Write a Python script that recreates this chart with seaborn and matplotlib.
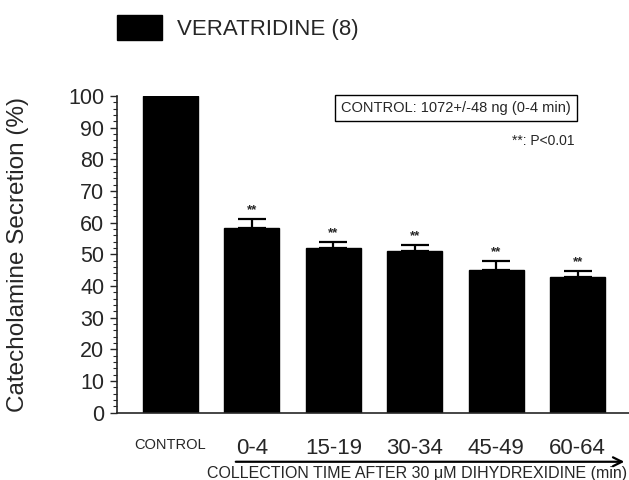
import matplotlib
matplotlib.use("Agg")
import matplotlib.pyplot as plt
from matplotlib.ticker import MultipleLocator
import numpy as np
import pandas as pd
import seaborn as sns

# values
categories = ["CONTROL", "0-4", "15-19", "30-34", "45-49", "60-64"]
secretion = [100, 58.3, 52.1, 51.2, 45.0, 42.8]
sem = [0, 2.9, 1.9, 1.9, 2.9, 2.0]
significant = [False, True, True, True, True, True]

df = pd.DataFrame({"period": categories, "secretion": secretion})

sns.set_style("white")
plt.rcParams["font.family"] = ["Liberation Sans", "DejaVu Sans"]

fig = plt.figure(figsize=(6.29, 4.8), dpi=100)
ax = fig.add_axes([0.186, 0.14, 0.814, 0.66])

sns.barplot(data=df, x="period", y="secretion", color="black", width=0.675,
            saturation=1, ax=ax, errorbar=None, edgecolor="black")

x = np.arange(len(categories))
err = np.array(sem)
ax.errorbar(x[1:], np.array(secretion)[1:], yerr=[np.zeros(len(x) - 1), err[1:]],
            fmt="none", ecolor="black", elinewidth=1.6, capsize=10, capthick=1.6)
for xi, v, e, s in zip(x, secretion, sem, significant):
    if s:
        ax.text(xi, v + e + 0.8, "**", ha="center", va="bottom", fontsize=9.5,
                fontweight="bold")

ax.set_ylim(0, 100)
ax.set_xlim(-0.657, 5.63)
ax.yaxis.set_major_locator(MultipleLocator(10))
ax.yaxis.set_minor_locator(MultipleLocator(2))
ax.tick_params(axis="y", which="major", direction="out", length=5, width=1,
               labelsize=15.5, left=True, pad=4)
ax.tick_params(axis="y", which="minor", direction="out", length=3, width=0.8, left=True)
ax.tick_params(axis="x", length=0, pad=18, labelsize=16)
for lbl in ax.get_xticklabels():
    if lbl.get_text() == "CONTROL":
        lbl.set_fontsize(10.5)

sns.despine(ax=ax, top=True, right=True)
ax.spines["left"].set_linewidth(1.2)
ax.spines["bottom"].set_linewidth(1.2)
ax.set_xlabel("")
ax.set_ylabel("")
fig.text(18 / 629, 1 - 255 / 480, "Catecholamine Secretion (%)", rotation=90,
         ha="center", va="center", fontsize=17.5)

# arrow and time axis caption
ax.annotate("", xy=(0.997, 0.038), xytext=(233 / 629, 0.038), xycoords="figure fraction",
            arrowprops=dict(arrowstyle="->", color="black", lw=1.6,
                            mutation_scale=16), annotation_clip=False)
fig.text(0.997, 0.013, "COLLECTION TIME AFTER 30 \u03bcM DIHYDREXIDINE (min)",
         ha="right", va="center", fontsize=11.5)

# legend-like key at the top
fig.patches.append(plt.Rectangle((117 / 629, 1 - 40 / 480), 45 / 629, 25 / 480,
                                 transform=fig.transFigure, color="black"))
fig.text(177 / 629, 1 - 30 / 480, "VERATRIDINE (8)", ha="left", va="center",
         fontsize=16)

fig.text(456 / 629, 1 - 108 / 480, "CONTROL: 1072+/-48 ng (0-4 min)",
         ha="center", va="center", fontsize=10.5,
         bbox=dict(boxstyle="square,pad=0.4", fc="white", ec="black", lw=1))
fig.text(575 / 629, 1 - 141 / 480, "**: P<0.01", ha="right", va="center", fontsize=10)

fig.savefig("out.png", dpi=100)
